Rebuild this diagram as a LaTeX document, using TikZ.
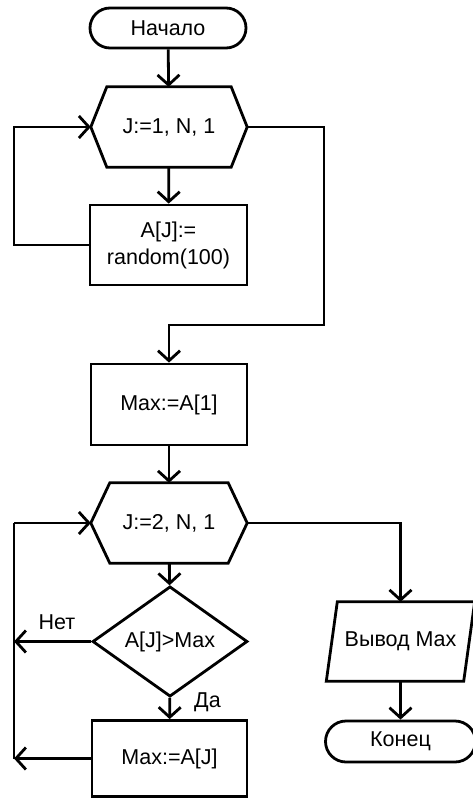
\documentclass[tikz,border=0pt]{standalone}
\usepackage{fontspec}
\setmainfont{Liberation Sans}
\usetikzlibrary{arrows.meta,shapes.misc,shapes.geometric}

% outline of a loop-header hexagon drawn around a plain rectangle node
\newcommand\hexoutline[2]{%
  \draw[outline] (#1.west) -- ([xshift=#2]#1.north west) -- ([xshift=-#2]#1.north east)
    -- (#1.east) -- ([xshift=-#2]#1.south east) -- ([xshift=#2]#1.south west) -- cycle;}

\begin{document}
\begin{tikzpicture}[x=1pt,y=-1pt,
  every node/.style={font=\fontsize{21.5}{27}\selectfont, inner sep=0pt},
  outline/.style={line width=2.8pt, line join=miter},
  line/.style={line width=2.8pt},
  flow/.style={line width=2.8pt, -{Straight Barb[length=10pt,width=22pt]}},
  terminal/.style={rounded rectangle, draw, line width=2.8pt, minimum height=40pt},
  block/.style={rectangle, draw, line width=2.8pt, align=center},
  hexbox/.style={rectangle, minimum width=156pt, minimum height=80pt},
  decision/.style={diamond, draw, line width=2.8pt, minimum width=155pt, minimum height=77pt},
  ioslot/.style={rectangle, minimum width=137pt, minimum height=79pt}
]
\path[use as bounding box] (0,0) rectangle (472,799);

% first loop: fill the array
\node[terminal, minimum width=156pt] (start) at (168,28) {Начало};
\node[hexbox] (h1) at (169,127) {J:=1, N, 1};
\hexoutline{h1}{16}
\node[block, minimum width=157pt, minimum height=80pt] (b1) at (168.5,245) {A[J]:=\\random(100)};

% initial maximum
\node[block, minimum width=156pt, minimum height=81pt] (b2) at (169,404.5) {Max:=A[1]};

% second loop: search for the maximum
\node[hexbox] (h2) at (169,523) {J:=2, N, 1};
\hexoutline{h2}{19}
\node[decision] (dec) at (170,641.5) {A[J]>Max};
\node[block, minimum width=155pt, minimum height=76pt] (b3) at (169.5,758.5) {Max:=A[J]};

% output and end
\node[ioslot] (io) at (400.5,641.5) {Вывод Max};
\draw[outline] ([xshift=-5.5]io.south west) -- ([xshift=5.5]io.north west)
  -- ([xshift=5.5]io.north east) -- ([xshift=-5.5]io.south east) -- cycle;
\node[terminal, minimum width=150pt, minimum height=41pt] (end) at (400.5,741.5) {Конец};

% branch labels
\node (no) at (57,622) {Нет};
\node (yes) at (207.5,702.5) {Да};

% loop return and exit points
\coordinate (lx1) at (14,127);
\coordinate (rx1) at (324,325);
\coordinate (lx2top) at (14,523);
\coordinate (lx2bot) at (14,758.5);

% connectors
\draw[flow] (start) -- (h1);
\draw[flow] (h1) -- (b1);
\draw[flow] (b1.west) -| (lx1) -- (h1.west);
\draw[flow] (h1.east) -| (rx1) -| (b2.north);
\draw[flow] (b2) -- (h2);
\draw[flow] (h2) -- (dec);
\draw[flow] (dec) -- (b3);
\draw[flow] (dec.west) -- (dec.west -| lx2bot);
\draw[flow] (b3.west) -- (lx2bot);
\draw[line] (lx2bot) -- (lx2top);
\draw[flow] (lx2top) -- (h2.west);
\draw[flow] (h2.east) -| (io.north);
\draw[flow] (io) -- (end);
\end{tikzpicture}
\end{document}
